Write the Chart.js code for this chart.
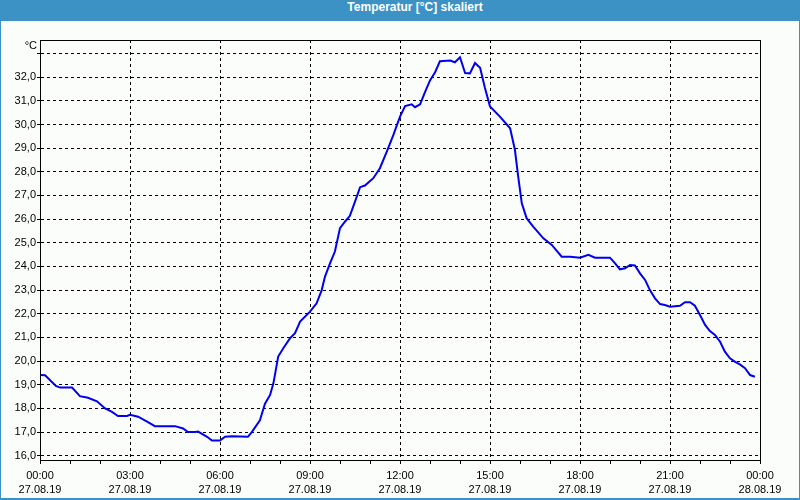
<!DOCTYPE html>
<html>
<head>
<meta charset="utf-8">
<script src="https://cdn.jsdelivr.net/npm/chart.js@4"></script>
<style>
  body { margin: 0; background: #fff; }
  #fenster { position: relative; width: 800px; height: 500px; background: #3c91c5; }
  #titel { position: absolute; left: 0; top: 0; width: 830px; height: 21px; line-height: 21px;
           text-align: center; color: #fff; font: bold 12px "Liberation Sans", Arial, sans-serif; }
  #flaeche { position: absolute; left: 1px; top: 21px; width: 798px; height: 477px; background: #fbfdfb; }
</style>
</head>
<body>
<div id="fenster">
  <div id="titel">Temperatur [°C] skaliert</div>
  <div id="flaeche"><canvas id="temperatur" width="798" height="477"></canvas></div>
</div>
<script>
// Messzeitpunkte in Stunden ab 27.08.19 00:00
const stunden = [
  0.00, 0.17, 0.53, 0.67, 1.07, 1.33, 1.60, 1.90, 2.17, 2.40, 2.60, 2.90, 3.00, 3.27, 3.57, 3.83,
  4.50, 4.77, 4.93, 5.17, 5.27, 5.57, 5.73, 6.00, 6.17, 6.40, 6.93, 7.06, 7.33, 7.50, 7.67, 7.78,
  7.94, 8.11, 8.33, 8.50, 8.67, 9.00, 9.22, 9.39, 9.50, 9.67, 9.83, 10.00, 10.17, 10.33, 10.50, 10.67,
  10.83, 11.11, 11.33, 11.56, 11.78, 12.00, 12.17, 12.39, 12.50, 12.67, 12.83, 13.00, 13.17, 13.33, 13.67, 13.83,
  14.00, 14.17, 14.33, 14.50, 14.67, 14.83, 15.00, 15.33, 15.67, 15.83, 15.94, 16.06, 16.22, 16.44, 16.78, 17.06,
  17.39, 17.67, 18.00, 18.28, 18.50, 19.00, 19.17, 19.33, 19.50, 19.67, 19.83, 20.00, 20.17, 20.33, 20.50, 20.67,
  20.83, 21.00, 21.33, 21.50, 21.67, 21.83, 22.00, 22.17, 22.33, 22.50, 22.67, 22.83, 23.00, 23.17, 23.33, 23.50,
  23.67, 23.83
];
// Temperatur in °C
const temperaturen = [
  19.41, 19.40, 18.95, 18.88, 18.88, 18.52, 18.45, 18.30, 18.00, 17.85, 17.68, 17.68, 17.73, 17.65, 17.44, 17.25,
  17.25, 17.15, 17.00, 17.00, 17.02, 16.80, 16.64, 16.64, 16.80, 16.82, 16.80, 17.00, 17.50, 18.20, 18.57, 19.06,
  20.19, 20.54, 20.96, 21.18, 21.67, 22.09, 22.44, 23.00, 23.57, 24.14, 24.63, 25.62, 25.90, 26.14, 26.74, 27.35,
  27.42, 27.73, 28.15, 28.85, 29.56, 30.33, 30.78, 30.85, 30.73, 30.85, 31.36, 31.86, 32.21, 32.67, 32.70, 32.63,
  32.84, 32.17, 32.16, 32.60, 32.40, 31.55, 30.76, 30.33, 29.84, 28.93, 27.80, 26.67, 26.04, 25.68, 25.19, 24.91,
  24.41, 24.41, 24.37, 24.49, 24.37, 24.37, 24.13, 23.88, 23.92, 24.06, 24.04, 23.71, 23.43, 23.00, 22.65, 22.41,
  22.37, 22.30, 22.34, 22.49, 22.49, 22.34, 21.95, 21.53, 21.27, 21.10, 20.82, 20.40, 20.12, 19.97, 19.86, 19.70,
  19.41, 19.34
];
// Achsenbeschriftung
const yTicks = [16, 17, 18, 19, 20, 21, 22, 23, 24, 25, 26, 27, 28, 29, 30, 31, 32, 33];
const xTicks = [0, 1, 2, 3, 4, 5, 6, 7, 8, 9, 10, 11, 12, 13, 14, 15, 16, 17, 18, 19, 20, 21, 22, 23, 24];
const xLabels = ['00:00', '03:00', '06:00', '09:00', '12:00', '15:00', '18:00', '21:00', '00:00'];
const xDaten = ['27.08.19', '27.08.19', '27.08.19', '27.08.19', '27.08.19', '27.08.19', '27.08.19', '27.08.19', '28.08.19'];

const schrift = { family: 'Liberation Sans', size: 11 };

// Rahmen um die Zeichenfläche und Einheit oben links
const rahmen = {
  id: 'rahmen',
  afterDraw(chart) {
    const { ctx, chartArea: a } = chart;
    ctx.save();
    ctx.strokeStyle = '#000';
    ctx.lineWidth = 1;
    ctx.strokeRect(Math.round(a.left) + 0.5, Math.round(a.top) + 0.5,
                   Math.round(a.right - a.left), Math.round(a.bottom - a.top));
    ctx.fillStyle = '#000';
    ctx.font = '11px "Liberation Sans"';
    ctx.textAlign = 'right';
    ctx.textBaseline = 'middle';
    ctx.fillText('°C', a.left - 3, a.top + 6);
    ctx.restore();
  }
};

const ctxTemp = document.getElementById('temperatur').getContext('2d');
const graficoTemp = new Chart(ctxTemp, {
  type: 'line',
  data: {
    datasets: [{
      data: stunden.map((h, i) => ({ x: h, y: temperaturen[i] })),
      borderColor: '#0000f0',
      borderWidth: 2,
      pointRadius: 0,
      tension: 0,
      fill: false
    }]
  },
  options: {
    responsive: false,
    animation: false,
    layout: { padding: { top: 19, left: 0, right: 39, bottom: 0 } },
    plugins: { legend: { display: false }, tooltip: { enabled: false } },
    scales: {
      x: {
        type: 'linear',
        min: 0,
        max: 24,
        afterBuildTicks: s => { s.ticks = xTicks.map(v => ({ value: v })); },
        afterFit: s => { s.height = 38; s.paddingLeft = 0; s.paddingRight = 0; },
        ticks: {
          autoSkip: false,
          maxRotation: 0,
          padding: 5,
          color: '#000',
          font: { ...schrift, lineHeight: 1.25 },
          callback: v => (v % 3 === 0 ? [xLabels[v / 3], xDaten[v / 3]] : '')
        },
        grid: {
          color: c => (c.tick && c.tick.value % 3 === 0 ? '#000' : 'rgba(0,0,0,0)'),
          tickColor: '#000',
          tickLength: 4,
          tickBorderDash: []
        },
        border: { color: '#000', dash: [3, 3] }
      },
      y: {
        type: 'linear',
        min: 15.82,
        max: 33.57,
        afterBuildTicks: s => { s.ticks = yTicks.map(v => ({ value: v })); },
        afterFit: s => { s.width = 39; s.paddingTop = 0; s.paddingBottom = 0; },
        ticks: {
          padding: 1,
          color: '#000',
          font: schrift,
          callback: v => (v === 33 ? '' : v.toFixed(1).replace('.', ','))
        },
        grid: { color: '#000', tickColor: '#000', tickLength: 3, tickBorderDash: [] },
        border: { color: '#000', dash: [3, 3] }
      }
    }
  },
  plugins: [rahmen]
});
</script>
</body>
</html>
